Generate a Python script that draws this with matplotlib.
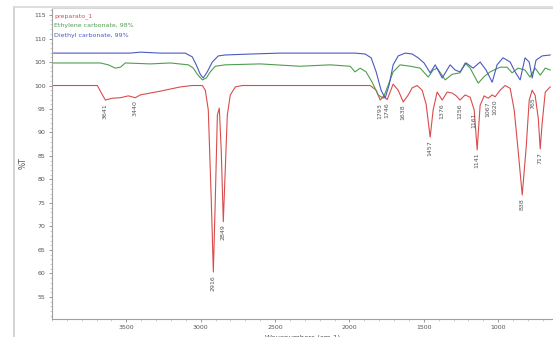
import matplotlib
matplotlib.use("Agg")
import matplotlib.pyplot as plt
from matplotlib.lines import Line2D
from matplotlib.ticker import MultipleLocator

# ---- data (wavenumber cm-1, %T) ----
red_wn = [4000, 3695, 3668, 3641, 3594, 3540, 3487, 3440, 3406, 3272, 3137, 3057,
          2989, 2969, 2949, 2929, 2915, 2902, 2888, 2875, 2862, 2848, 2835, 2821,
          2801, 2767, 2720, 1860, 1820, 1793, 1770, 1746, 1706, 1672, 1638, 1604,
          1578, 1544, 1511, 1484, 1457, 1437, 1410, 1376, 1343, 1309, 1282, 1256,
          1222, 1188, 1161, 1141, 1121, 1094, 1067, 1040, 1020, 987, 953, 919,
          892, 865, 838, 811, 791, 771, 751, 730, 717, 704, 683, 650]
red_t = [100.0, 100.0, 98.4, 96.9, 97.3, 97.4, 97.8, 97.4, 98.0, 98.8, 99.7, 100.0,
         100.0, 99.0, 94.8, 75.6, 60.3, 75.6, 93.7, 95.2, 86.3, 71.0, 82.0, 93.7,
         98.0, 99.7, 100.0, 100.0, 99.0, 96.9, 97.8, 97.0, 100.3, 99.0, 96.5, 98.0,
         99.5, 100.0, 99.0, 96.0, 89.0, 94.8, 98.6, 96.9, 98.6, 98.4, 97.8, 96.9,
         98.0, 97.5, 94.8, 86.3, 95.8, 97.8, 97.3, 98.0, 97.6, 99.0, 100.0, 99.4,
         94.8, 86.0, 76.7, 87.0, 96.9, 99.0, 97.9, 93.0, 86.5, 92.0, 98.6, 99.7]

green_wn = [4000, 3675, 3621, 3574, 3540, 3507, 3339, 3204, 3083, 3050, 3023, 2989,
            2962, 2936, 2902, 2835, 2600, 2331, 2129, 1995, 1962, 1928, 1888, 1847,
            1807, 1773, 1739, 1706, 1659, 1591, 1524, 1470, 1437, 1410, 1356, 1309,
            1256, 1222, 1188, 1134, 1094, 1054, 987, 940, 906, 866, 819, 786, 751,
            717, 683, 650]
green_t = [104.8, 104.8, 104.4, 103.7, 103.9, 104.8, 104.6, 104.8, 104.4, 103.7, 102.4, 101.2,
           101.6, 102.9, 104.1, 104.4, 104.6, 104.1, 104.4, 104.1, 102.9, 103.7, 102.9, 100.7,
           98.0, 97.3, 100.1, 102.9, 104.4, 104.1, 103.7, 101.8, 103.3, 103.7, 101.2, 102.4,
           102.7, 104.8, 103.7, 100.5, 101.9, 102.9, 103.9, 103.9, 102.7, 103.7, 103.3, 101.8, 103.7,
           102.2, 103.7, 103.3]

blue_wn = [4000, 3473, 3406, 3272, 3104, 3057, 3030, 3003, 2983, 2956, 2922, 2882,
           2835, 2667, 2465, 2196, 1962, 1894, 1854, 1820, 1787, 1760, 1733, 1706,
           1672, 1625, 1578, 1538, 1498, 1457, 1423, 1376, 1323, 1289, 1256, 1215,
           1168, 1121, 1081, 1040, 1007, 967, 919, 886, 852, 819, 791, 771, 745,
           704, 650]
blue_t = [106.9, 106.9, 107.1, 106.9, 106.9, 106.1, 104.4, 102.4, 101.6, 102.9, 105.0, 106.3,
          106.5, 106.7, 106.9, 106.9, 106.9, 106.7, 105.9, 102.9, 99.0, 97.3, 100.1, 104.4,
          106.3, 106.9, 106.7, 105.9, 104.8, 102.7, 104.4, 101.6, 104.4, 103.3, 102.9, 104.8,
          103.7, 105.0, 103.3, 100.7, 104.4, 105.9, 105.0, 102.9, 101.2, 105.9, 105.0, 101.6, 105.4,
          106.3, 106.5]

series_names = ["preparato_1", "Ethylene carbonate, 98%", "Diethyl carbonate, 99%"]

peak_wn = [3641, 3440, 2915, 2848, 1793, 1746, 1638, 1457, 1376, 1256, 1161, 1141,
           1067, 1020, 838, 765, 717]
peak_t = [96.9, 97.4, 60.3, 71.0, 96.9, 97.0, 96.5, 89.0, 96.9, 96.9, 94.8, 86.3,
          97.3, 97.6, 76.7, 98.0, 86.5]
peak_labels = ["3641", "3440", "2916", "2849", "1793", "1746", "1638", "1457", "1376",
               "1256", "1161", "1141", "1067", "1020", "838", "765", "717"]

x_ticks = [3500, 3000, 2500, 2000, 1500, 1000]
y_ticks = [55, 60, 65, 70, 75, 80, 85, 90, 95, 100, 105, 110, 115]

# ---- figure ----
W, H = 553, 337
fig = plt.figure(figsize=(W / 100, H / 100), dpi=100)
ax = fig.add_axes([52 / W, (H - 319) / H, (W - 52) / W, (319 - 8) / H])

c_red, c_green, c_blue = "#d94c4c", "#4f9e4f", "#4a5ac4"
ax.plot(red_wn, red_t, color=c_red, lw=0.8)
ax.plot(green_wn, green_t, color=c_green, lw=0.8)
ax.plot(blue_wn, blue_t, color=c_blue, lw=0.8)

ax.set_xlim(4000, 631)
ax.set_ylim(50.3, 116.5)

for w, t, lab in zip(peak_wn, peak_t, peak_labels):
    ax.text(w, t - 0.6, lab, rotation=90, ha="center", va="top",
            fontsize=4.5, color="#555555")

for i, (name, col) in enumerate(zip(series_names, [c_red, c_green, c_blue])):
    ax.text(0.004, 0.975 - i * 0.031, name, transform=ax.transAxes,
            fontsize=4.5, color=col, ha="left", va="center")

ax.set_xticks(x_ticks)
ax.set_yticks(y_ticks)
ax.xaxis.set_minor_locator(MultipleLocator(100))
ax.yaxis.set_minor_locator(MultipleLocator(1))
ax.tick_params(axis="both", which="major", labelsize=4.5, colors="#888888",
               labelcolor="#555555", length=2.5, width=0.6, pad=2)
ax.tick_params(axis="both", which="minor", colors="#aaaaaa", length=1.2, width=0.4)

ax.spines["right"].set_visible(False)
ax.spines["top"].set_color("#d8d8d8")
ax.spines["left"].set_color("#a0a0a0")
ax.spines["bottom"].set_color("#a0a0a0")
for s in ax.spines.values():
    s.set_linewidth(0.8)

ax.set_ylabel("%T", fontsize=5.5, color="#555555", labelpad=5)
ax.set_xlabel("Wavenumbers (cm-1)", fontsize=5, color="#555555", labelpad=3)

# outer panel frame (left and top border)
fig.add_artist(Line2D([14 / W, 14 / W], [0, (H - 7) / H], transform=fig.transFigure,
                      color="#cccccc", lw=1.2))
fig.add_artist(Line2D([14 / W, 1], [(H - 7) / H, (H - 7) / H], transform=fig.transFigure,
                      color="#d8d8d8", lw=1.2))

fig.savefig("out.png", dpi=100)
